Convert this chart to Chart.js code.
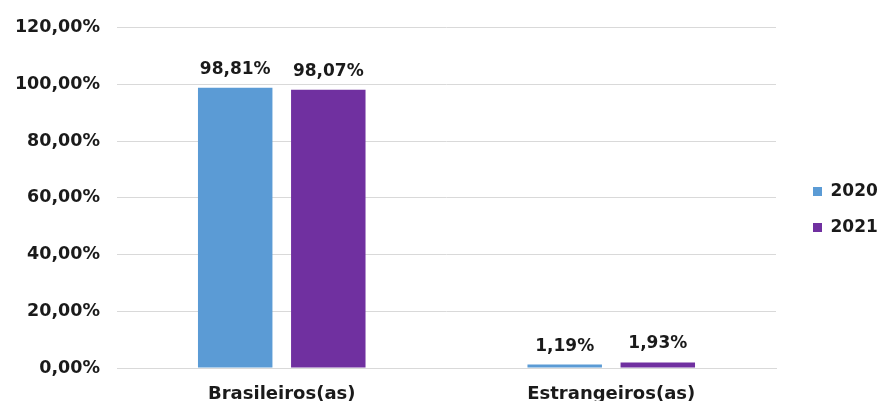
<!DOCTYPE html>
<html><head><meta charset="utf-8">
<script src="https://cdn.jsdelivr.net/npm/chart.js@4"></script>
<style>html,body{margin:0;padding:0;background:#fff}#c{display:block}</style>
</head><body>
<canvas id="c" width="880" height="401"></canvas>
<script>
const categories = ['Brasileiros(as)', 'Estrangeiros(as)'];
const seriesLabels = ['2020', '2021'];
const values2020 = [98.81, 1.19];
const values2021 = [98.07, 1.93];
const yTicks = [0, 20, 40, 60, 80, 100, 120];

const FONT = '"DejaVu Sans", sans-serif';
const fmt = (v, d) => v.toFixed(d).replace('.', ',') + '%';

const valueLabels = {
  id: 'valueLabels',
  afterDatasetsDraw(chart) {
    const ctx = chart.ctx;
    ctx.save();
    ctx.font = 'bold 17px ' + FONT;
    ctx.fillStyle = '#1a1a1a';
    ctx.textAlign = 'center';
    ctx.textBaseline = 'bottom';
    chart.data.datasets.forEach((ds, i) => {
      chart.getDatasetMeta(i).data.forEach((bar, j) => {
        ctx.fillText(fmt(ds.data[j], 2), bar.x, bar.y - 10);
      });
    });
    ctx.restore();
  }
};

const legendPlacement = {
  id: 'legendPlacement',
  afterInit(chart) {
    const lg = chart.legend;
    if (!lg) return;
    const fit = lg.fit, draw = lg.draw;
    lg.fit = function () { fit.call(this); if (!this.isHorizontal()) this.width = 104; };
    lg.draw = function () {
      const ctx = this.ctx; ctx.save(); ctx.translate(18, 0); draw.call(this); ctx.restore();
    };
  }
};

new Chart(document.getElementById('c'), {
  type: 'bar',
  data: {
    labels: categories,
    datasets: [
      { label: seriesLabels[0], data: values2020, backgroundColor: '#5B9BD5' },
      { label: seriesLabels[1], data: values2021, backgroundColor: '#7030A0' }
    ]
  },
  options: {
    responsive: false,
    animation: false,
    layout: { padding: { top: 18, right: 0, bottom: 0, left: 0 } },
    categoryPercentage: 0.565,
    barPercentage: 0.8,
    scales: {
      y: {
        min: 0, max: 120,
        afterBuildTicks(s) { s.ticks = yTicks.map(v => ({ value: v })); },
        afterFit(s) { s.width = 117; },
        grid: { color: '#d9d9d9', drawTicks: false },
        border: { display: false },
        ticks: { padding: 17, color: '#1a1a1a', font: { family: FONT, size: 17.5, weight: 'bold' },
          callback: v => fmt(v, 2) }
      },
      x: {
        afterFit(s) { s.height = 33; },
        grid: { display: false },
        border: { color: '#d9d9d9' },
        ticks: { padding: 8, color: '#1a1a1a', font: { family: FONT, size: 18, weight: 'bold' } }
      }
    },
    plugins: {
      legend: {
        position: 'right',
        labels: { boxWidth: 9, boxHeight: 9, padding: 19, color: '#1a1a1a',
          font: { family: FONT, size: 17, weight: 'bold' } }
      },
      tooltip: { enabled: false }
    }
  },
  plugins: [legendPlacement, valueLabels]
});
</script>
</body></html>
